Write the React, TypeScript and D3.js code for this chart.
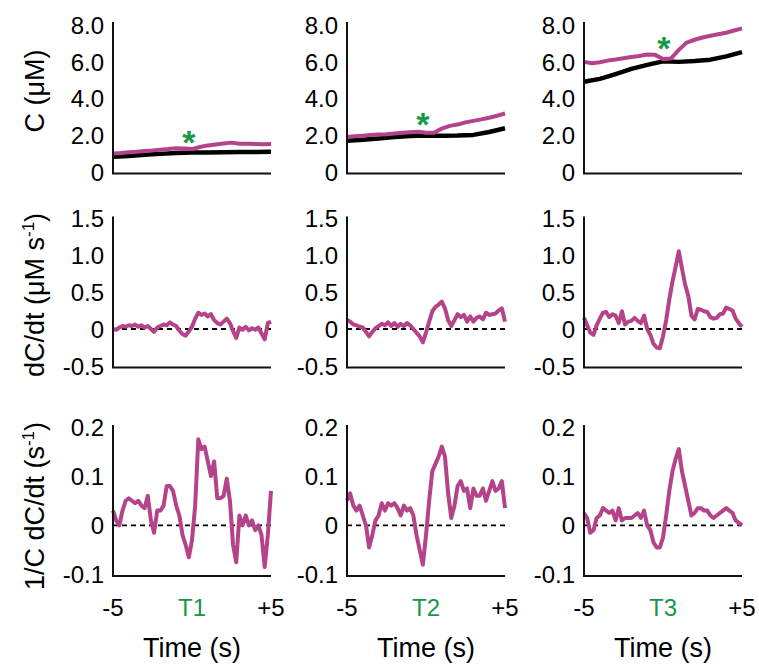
import { useEffect, useRef } from 'react';
import * as d3 from 'd3';

const WIDTH = 759;
const HEIGHT = 666;

// sample times (s, relative to trial event)
const fineTime = [-5, -4.8, -4.6, -4.4, -4.2, -4, -3.8, -3.6, -3.4, -3.2, -3, -2.8, -2.6, -2.4, -2.2, -2, -1.8, -1.6, -1.4, -1.2, -1, -0.8, -0.6, -0.4, -0.2, 0, 0.2, 0.4, 0.6, 0.8, 1, 1.2, 1.4, 1.6, 1.8, 2, 2.2, 2.4, 2.6, 2.8, 3, 3.2, 3.4, 3.6, 3.8, 4, 4.2, 4.4, 4.6, 4.8, 5];
const coarseTime = [-5, -4.5, -4, -3.5, -3, -2.5, -2, -1.5, -1, -0.5, 0, 0.5, 1, 1.5, 2, 2.5, 3, 3.5, 4, 4.5, 5];
const baseTime = [-5, -4, -3, -2, -1, 0, 1, 2, 3, 4, 5];

const trialLabels = ['T1', 'T2', 'T3'];

// row 1: concentration C (uM)
const concT1 = [1.03, 1.06, 1.10, 1.13, 1.17, 1.20, 1.24, 1.27, 1.32, 1.30, 1.27, 1.38, 1.47, 1.52, 1.57, 1.62, 1.56, 1.56, 1.55, 1.53, 1.55];
const concT2 = [1.93, 1.97, 2.00, 2.03, 2.06, 2.08, 2.12, 2.15, 2.18, 2.21, 2.16, 2.15, 2.38, 2.53, 2.60, 2.72, 2.80, 2.88, 2.97, 3.08, 3.20];
const concT3 = [6.00, 5.93, 5.98, 6.07, 6.13, 6.20, 6.26, 6.32, 6.40, 6.38, 6.15, 6.18, 6.65, 7.05, 7.20, 7.32, 7.42, 7.50, 7.58, 7.70, 7.82];
const baseT1 = [0.85, 0.90, 0.96, 1.01, 1.06, 1.08, 1.09, 1.10, 1.11, 1.11, 1.12];
const baseT2 = [1.72, 1.78, 1.85, 1.92, 1.98, 2.00, 2.00, 2.01, 2.04, 2.20, 2.40];
const baseT3 = [4.92, 5.08, 5.34, 5.62, 5.84, 6.03, 6.00, 6.05, 6.12, 6.30, 6.53];

// asterisk marks (time, C)
const starTime = [-0.2, -0.2, 0.05];
const starConc = [2.1, 3.1, 7.2];

// row 2: dC/dt (uM/s)
const rateT1 = [0.00, -0.01, 0.02, 0.04, 0.03, 0.05, 0.04, 0.06, 0.03, 0.05, 0.02, 0.04, 0.00, -0.04, 0.02, 0.04, 0.06, 0.05, 0.09, 0.06, 0.04, -0.02, -0.07, -0.09, -0.03, 0.03, 0.14, 0.22, 0.19, 0.21, 0.17, 0.20, 0.12, 0.08, 0.06, 0.10, 0.14, 0.08, -0.03, -0.12, 0.02, -0.01, 0.03, -0.02, 0.01, -0.01, 0.02, -0.06, -0.14, 0.08, 0.10];
const rateT2 = [0.12, 0.10, 0.06, 0.05, 0.03, 0.02, -0.04, -0.10, -0.04, 0.01, 0.04, 0.07, 0.05, 0.09, 0.04, 0.08, 0.03, 0.07, 0.04, 0.08, 0.05, 0.00, -0.05, -0.10, -0.18, -0.05, 0.10, 0.24, 0.30, 0.33, 0.37, 0.28, 0.12, 0.04, 0.12, 0.20, 0.16, 0.19, 0.10, 0.17, 0.10, 0.15, 0.17, 0.13, 0.22, 0.19, 0.20, 0.21, 0.25, 0.28, 0.10];
const rateT3 = [0.15, 0.05, -0.05, -0.08, 0.05, 0.14, 0.22, 0.23, 0.16, 0.20, 0.18, 0.08, 0.24, 0.06, 0.10, 0.11, 0.15, 0.11, 0.08, 0.18, 0.00, -0.08, -0.20, -0.25, -0.26, -0.10, 0.12, 0.40, 0.64, 0.84, 1.05, 0.82, 0.60, 0.45, 0.18, 0.13, 0.27, 0.26, 0.24, 0.23, 0.16, 0.14, 0.15, 0.20, 0.21, 0.29, 0.27, 0.25, 0.14, 0.08, 0.03];

// row 3: 1/C dC/dt (1/s)
const relT1 = [0.03, 0.01, 0.00, 0.03, 0.05, 0.055, 0.05, 0.045, 0.05, 0.04, 0.035, 0.06, 0.01, -0.015, 0.03, 0.03, 0.04, 0.08, 0.08, 0.07, 0.04, 0.02, -0.02, -0.04, -0.065, -0.03, 0.04, 0.175, 0.155, 0.16, 0.13, 0.10, 0.13, 0.055, 0.055, 0.06, 0.095, 0.05, -0.04, -0.075, 0.02, 0.00, 0.02, 0.00, 0.01, -0.01, 0.00, -0.02, -0.085, -0.02, 0.07];
const relT2 = [0.05, 0.065, 0.04, 0.03, 0.04, 0.02, 0.00, -0.045, -0.02, 0.01, 0.02, 0.045, 0.03, 0.045, 0.04, 0.045, 0.035, 0.02, 0.04, 0.03, 0.035, 0.02, -0.02, -0.05, -0.08, -0.02, 0.05, 0.11, 0.125, 0.14, 0.16, 0.14, 0.065, 0.015, 0.04, 0.08, 0.09, 0.07, 0.075, 0.035, 0.075, 0.06, 0.06, 0.075, 0.05, 0.07, 0.09, 0.07, 0.075, 0.09, 0.035];
const relT3 = [0.025, 0.015, -0.015, -0.01, 0.015, 0.02, 0.035, 0.03, 0.025, 0.03, 0.01, 0.035, 0.01, 0.015, 0.015, 0.015, 0.02, 0.025, 0.015, 0.03, 0.00, -0.01, -0.035, -0.045, -0.045, -0.025, 0.02, 0.07, 0.11, 0.135, 0.155, 0.11, 0.08, 0.05, 0.02, 0.025, 0.035, 0.035, 0.03, 0.03, 0.02, 0.015, 0.02, 0.025, 0.03, 0.035, 0.03, 0.025, 0.01, 0.005, 0.00];

// tick values and labels
const concTicks = [0, 2, 4, 6, 8];
const concTickLabels = ['0', '2.0', '4.0', '6.0', '8.0'];
const rateTicks = [-0.5, 0, 0.5, 1, 1.5];
const rateTickLabels = ['-0.5', '0', '0.5', '1.0', '1.5'];
const relTicks = [-0.1, 0, 0.1, 0.2];
const relTickLabels = ['-0.1', '0', '0.1', '0.2'];
const xTickValues = [-5, 5];
const xTickLabels = ['-5', '+5'];

const PINK = '#b4438a';
const GREEN = '#17974b';
const FONT = '"Liberation Sans", Arial, Helvetica, sans-serif';

const colLeft = [113, 347, 584];
const colWidth = 158;

const rows = [
  { domain: [0, 8], range: [172.5, 25], axisTop: 22, axisBottom: 173.5, titleY: 91, ticks: concTicks, labels: concTickLabels, zero: false,
    title: { main: 'C (μM)', sup: '', tail: '' } },
  { domain: [-0.5, 1.5], range: [366, 218], axisTop: 216.5, axisBottom: 367.5, titleY: 295, ticks: rateTicks, labels: rateTickLabels, zero: true,
    title: { main: 'dC/dt (μM s', sup: '-1', tail: ')' } },
  { domain: [-0.1, 0.2], range: [574.5, 427], axisTop: 425, axisBottom: 576, titleY: 506, ticks: relTicks, labels: relTickLabels, zero: true,
    title: { main: '1/C dC/dt (s', sup: '-1', tail: ')' } },
];

const App = () => {
  const svgRef = useRef<SVGSVGElement>(null);

  useEffect(() => {
    if (!svgRef.current) return;
    document.body.style.margin = '0';

    const svg = d3.select(svgRef.current);
    svg.selectAll('*').remove();

    const concPink = [concT1, concT2, concT3];
    const concBlack = [baseT1, baseT2, baseT3];
    const rates = [rateT1, rateT2, rateT3];
    const rels = [relT1, relT2, relT3];

    rows.forEach((row, r) => {
      const y = d3.scaleLinear().domain(row.domain).range(row.range);

      // Row title (rotated)
      const t = svg.append('text')
        .attr('transform', `translate(44,${row.titleY}) rotate(-90)`)
        .attr('text-anchor', 'middle')
        .attr('font-family', FONT)
        .attr('font-size', '27px')
        .attr('fill', '#000');
      t.append('tspan').text(row.title.main);
      if (row.title.sup) {
        t.append('tspan').attr('dy', -10).attr('font-size', '17px').text(row.title.sup);
        t.append('tspan').attr('dy', 10).text(row.title.tail);
      }

      colLeft.forEach((x0, c) => {
        const x = d3.scaleLinear().domain([-5, 5]).range([x0, x0 + colWidth]);
        const g = svg.append('g');

        // y tick labels
        g.selectAll('.ytick')
          .data(row.ticks)
          .join('text')
          .attr('x', x0 - 9)
          .attr('y', d => y(d))
          .attr('dy', '0.36em')
          .attr('text-anchor', 'end')
          .attr('font-family', FONT)
          .attr('font-size', '24px')
          .attr('fill', '#000')
          .text((d, i) => row.labels[i]);

        // zero reference
        if (row.zero) {
          g.append('line')
            .attr('x1', x0)
            .attr('x2', x0 + colWidth)
            .attr('y1', y(0))
            .attr('y2', y(0))
            .attr('stroke', '#000')
            .attr('stroke-width', 1.8)
            .attr('stroke-dasharray', '5,4');
        }

        const line = d3.line<[number, number]>()
          .x(d => x(d[0]))
          .y(d => y(d[1]));

        if (r === 0) {
          g.append('path')
            .datum(baseTime.map((tt, i) => [tt, concBlack[c][i]] as [number, number]))
            .attr('d', line)
            .attr('fill', 'none')
            .attr('stroke', '#000')
            .attr('stroke-width', 4.5)
            .attr('stroke-linejoin', 'round');
          g.append('path')
            .datum(coarseTime.map((tt, i) => [tt, concPink[c][i]] as [number, number]))
            .attr('d', line)
            .attr('fill', 'none')
            .attr('stroke', PINK)
            .attr('stroke-width', 4)
            .attr('stroke-linejoin', 'round');
          g.append('text')
            .attr('x', x(starTime[c]))
            .attr('y', y(starConc[c]))
            .attr('dy', '0.6em')
            .attr('text-anchor', 'middle')
            .attr('font-family', FONT)
            .attr('font-weight', 'bold')
            .attr('font-size', '34px')
            .attr('fill', GREEN)
            .text('*');
        } else {
          const vals = r === 1 ? rates[c] : rels[c];
          g.append('path')
            .datum(fineTime.map((tt, i) => [tt, vals[i]] as [number, number]))
            .attr('d', line)
            .attr('fill', 'none')
            .attr('stroke', PINK)
            .attr('stroke-width', 4)
            .attr('stroke-linejoin', 'round');
        }

        // axes (lines only, no tick marks)
        g.append('path')
          .attr('d', `M${x0},${row.axisTop}V${row.axisBottom}H${x0 + colWidth}`)
          .attr('fill', 'none')
          .attr('stroke', '#111')
          .attr('stroke-width', 2);

        // bottom row: time labels
        if (r === 2) {
          g.selectAll('.xtick')
            .data(xTickValues)
            .join('text')
            .attr('x', d => x(d))
            .attr('y', 607)
            .attr('dy', '0.36em')
            .attr('text-anchor', 'middle')
            .attr('font-family', FONT)
            .attr('font-size', '24px')
            .attr('fill', '#000')
            .text((d, i) => xTickLabels[i]);

          g.append('text')
            .attr('x', x(0))
            .attr('y', 607)
            .attr('dy', '0.36em')
            .attr('text-anchor', 'middle')
            .attr('font-family', FONT)
            .attr('font-size', '24px')
            .attr('fill', GREEN)
            .text(trialLabels[c]);

          g.append('text')
            .attr('x', x(0))
            .attr('y', 657)
            .attr('text-anchor', 'middle')
            .attr('font-family', FONT)
            .attr('font-size', '27px')
            .attr('fill', '#000')
            .text('Time (s)');
        }
      });
    });
  }, []);

  return (
    <svg
      ref={svgRef}
      width={WIDTH}
      height={HEIGHT}
      style={{ display: 'block', background: '#fff' }}
    />
  );
};

export default App;
